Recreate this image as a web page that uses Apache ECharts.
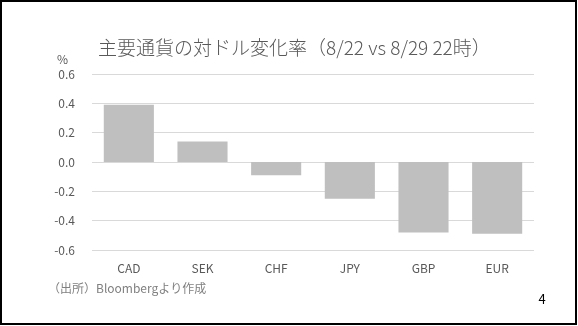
<!DOCTYPE html>
<html>
<head>
<meta charset="utf-8">
<script src="https://cdn.jsdelivr.net/npm/echarts@6/dist/echarts.min.js"></script>
<style>
  html, body { margin: 0; padding: 0; background: #fff; }
  #chart { width: 578px; height: 326px; }
</style>
</head>
<body>
<div id="chart"></div>
<script>
// Currency change vs USD, percent
const currencies = ['CAD', 'SEK', 'CHF', 'JPY', 'GBP', 'EUR'];
const changePct = [0.39, 0.14, -0.09, -0.25, -0.48, -0.49];
const yTicks = { min: -0.6, max: 0.6, step: 0.2 };

const FONT = '"Noto Sans CJK JP", "Noto Sans", sans-serif';
const chart = echarts.init(document.getElementById('chart'), null, { renderer: 'canvas' });

chart.setOption({
  backgroundColor: '#fff',
  animation: false,
  grid: { left: 92, right: 44, top: 74, bottom: 76, containLabel: false },
  graphic: [
    {
      type: 'rect',
      shape: { x: 1, y: 1, width: 575, height: 323 },
      style: { fill: 'none', stroke: '#000', lineWidth: 2 },
      silent: true
    },
    {
      type: 'text', x: 98, y: 48,
      style: { text: '主要通貨の対ドル変化率（8/22 vs 8/29 22時）', fill: '#595959',
               font: '300 19px ' + FONT, verticalAlign: 'middle' }
    },
    {
      type: 'text', x: 57, y: 59,
      style: { text: '%', fill: '#595959', font: '12px ' + FONT, verticalAlign: 'middle' }
    },
    {
      type: 'text', x: 48, y: 288,
      style: { text: '（出所）Bloombergより作成', fill: '#808080', font: '12px ' + FONT,
               verticalAlign: 'middle' }
    },
    {
      type: 'text', x: 542, y: 299,
      style: { text: '4', fill: '#000', font: '13px ' + FONT, align: 'center',
               verticalAlign: 'middle' }
    }
  ],
  xAxis: {
    type: 'category',
    data: currencies,
    axisLine: { show: false },
    axisTick: { show: false },
    axisLabel: { color: '#595959', fontFamily: FONT, fontSize: 12, margin: 12 }
  },
  yAxis: {
    type: 'value',
    min: yTicks.min, max: yTicks.max, interval: yTicks.step,
    axisLine: { show: false },
    axisTick: { show: false },
    splitLine: { lineStyle: { color: '#d9d9d9', width: 1 } },
    axisLabel: {
      color: '#595959', fontFamily: FONT, fontSize: 12, margin: 17,
      formatter: v => v.toFixed(1)
    }
  },
  series: [{
    type: 'bar',
    data: changePct,
    barCategoryGap: '32%',
    itemStyle: { color: '#bfbfbf' }
  }]
});
</script>
</body>
</html>
